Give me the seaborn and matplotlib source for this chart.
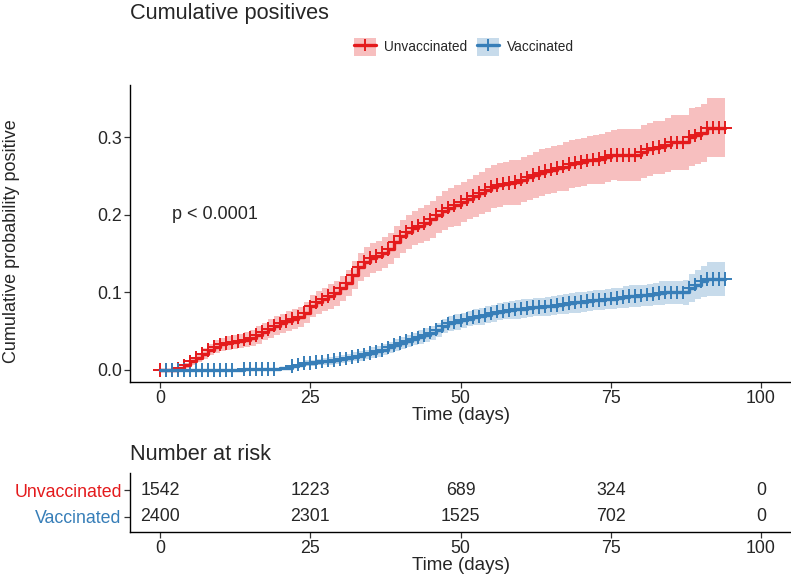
import numpy as np
import pandas as pd
import matplotlib
matplotlib.use("Agg")
import matplotlib.pyplot as plt
import seaborn as sns
from matplotlib.patches import Patch
from matplotlib.lines import Line2D

# daily grid of the Kaplan-Meier style cumulative curves
days = list(range(95))

unvacc_est = [
    0.000, 0.000, 0.000, 0.002, 0.006, 0.011, 0.016, 0.021, 0.026, 0.030,
    0.033, 0.035, 0.036, 0.037, 0.039, 0.041, 0.045, 0.049, 0.053, 0.057,
    0.060, 0.063, 0.066, 0.068, 0.074, 0.082, 0.087, 0.091, 0.095, 0.099,
    0.105, 0.112, 0.122, 0.132, 0.139, 0.144, 0.147, 0.151, 0.156, 0.165,
    0.172, 0.178, 0.183, 0.186, 0.189, 0.194, 0.200, 0.205, 0.209, 0.212,
    0.216, 0.220, 0.224, 0.228, 0.232, 0.236, 0.238, 0.240, 0.241, 0.242,
    0.245, 0.248, 0.251, 0.254, 0.256, 0.258, 0.260, 0.262, 0.265, 0.267,
    0.268, 0.270, 0.271, 0.272, 0.274, 0.277, 0.277, 0.277, 0.277, 0.277,
    0.281, 0.284, 0.286, 0.287, 0.290, 0.293, 0.293, 0.293, 0.300, 0.302,
    0.305, 0.312, 0.312, 0.312, 0.312,
]
unvacc_hw = [
    0.000, 0.000, 0.000, 0.002, 0.003, 0.005, 0.006, 0.007, 0.007, 0.008,
    0.008, 0.009, 0.009, 0.009, 0.010, 0.010, 0.011, 0.011, 0.012, 0.012,
    0.012, 0.013, 0.013, 0.013, 0.014, 0.014, 0.015, 0.015, 0.016, 0.016,
    0.016, 0.017, 0.018, 0.018, 0.019, 0.019, 0.019, 0.020, 0.020, 0.021,
    0.021, 0.022, 0.022, 0.023, 0.023, 0.024, 0.024, 0.025, 0.025, 0.026,
    0.026, 0.026, 0.027, 0.027, 0.028, 0.028, 0.028, 0.028, 0.029, 0.029,
    0.029, 0.029, 0.030, 0.030, 0.030, 0.030, 0.030, 0.031, 0.031, 0.031,
    0.031, 0.031, 0.032, 0.032, 0.032, 0.032, 0.033, 0.033, 0.033, 0.033,
    0.034, 0.034, 0.034, 0.034, 0.035, 0.035, 0.035, 0.036, 0.037, 0.037,
    0.037, 0.038, 0.038, 0.038, 0.038,
]
vacc_est = [
    0.000, 0.000, 0.000, 0.000, 0.000, 0.000, 0.000, 0.000, 0.000, 0.000,
    0.000, 0.000, 0.000, 0.000, 0.001, 0.001, 0.001, 0.001, 0.001, 0.001,
    0.002, 0.003, 0.005, 0.007, 0.009, 0.009, 0.010, 0.011, 0.012, 0.013,
    0.014, 0.015, 0.017, 0.018, 0.020, 0.022, 0.024, 0.026, 0.029, 0.032,
    0.035, 0.037, 0.040, 0.042, 0.045, 0.048, 0.052, 0.056, 0.060, 0.062,
    0.064, 0.066, 0.068, 0.069, 0.071, 0.073, 0.075, 0.076, 0.077, 0.078,
    0.079, 0.080, 0.081, 0.081, 0.082, 0.083, 0.084, 0.085, 0.086, 0.087,
    0.088, 0.089, 0.090, 0.090, 0.091, 0.092, 0.093, 0.094, 0.095, 0.095,
    0.096, 0.097, 0.098, 0.099, 0.100, 0.100, 0.100, 0.100, 0.106, 0.110,
    0.114, 0.117, 0.117, 0.117, 0.117,
]
vacc_hw = [
    0.000, 0.000, 0.000, 0.000, 0.000, 0.000, 0.000, 0.000, 0.000, 0.000,
    0.000, 0.000, 0.000, 0.000, 0.001, 0.001, 0.001, 0.001, 0.001, 0.001,
    0.002, 0.002, 0.003, 0.003, 0.004, 0.004, 0.004, 0.004, 0.005, 0.005,
    0.005, 0.005, 0.006, 0.006, 0.006, 0.007, 0.007, 0.007, 0.007, 0.008,
    0.008, 0.008, 0.008, 0.009, 0.009, 0.009, 0.009, 0.009, 0.010, 0.010,
    0.010, 0.010, 0.010, 0.011, 0.011, 0.011, 0.011, 0.011, 0.012, 0.012,
    0.012, 0.012, 0.012, 0.012, 0.012, 0.012, 0.012, 0.013, 0.013, 0.013,
    0.013, 0.013, 0.013, 0.013, 0.013, 0.013, 0.013, 0.014, 0.014, 0.014,
    0.014, 0.014, 0.014, 0.015, 0.015, 0.015, 0.015, 0.016, 0.018, 0.019,
    0.020, 0.022, 0.022, 0.022, 0.022,
]

# censoring marks (days)
unvacc_censor = list(range(0, 95))
vacc_censor = list(range(1, 13)) + list(range(14, 20)) + list(range(22, 95))

risk_times = [0, 25, 50, 75, 100]
unvacc_risk = [1542, 1223, 689, 324, 0]
vacc_risk = [2400, 2301, 1525, 702, 0]

groups = ["Unvaccinated", "Vaccinated"]
palette = {"Unvaccinated": "#E41A1C", "Vaccinated": "#377EB8"}

curves = pd.concat([
    pd.DataFrame({"day": days, "est": unvacc_est, "hw": unvacc_hw, "group": "Unvaccinated"}),
    pd.DataFrame({"day": days, "est": vacc_est, "hw": vacc_hw, "group": "Vaccinated"}),
], ignore_index=True)
curves["lo"] = (curves["est"] - curves["hw"]).clip(lower=0)
curves["hi"] = curves["est"] + curves["hw"]

censor = pd.concat([
    pd.DataFrame({"day": unvacc_censor, "group": "Unvaccinated"}),
    pd.DataFrame({"day": vacc_censor, "group": "Vaccinated"}),
], ignore_index=True).merge(curves[["day", "group", "est"]], on=["day", "group"])

risk = pd.concat([
    pd.DataFrame({"time": risk_times, "n": unvacc_risk, "group": "Unvaccinated", "row": 2}),
    pd.DataFrame({"time": risk_times, "n": vacc_risk, "group": "Vaccinated", "row": 1}),
], ignore_index=True)

sns.set_style("ticks")
plt.rcParams["font.family"] = ["Liberation Sans", "DejaVu Sans"]

fig = plt.figure(figsize=(7.91, 5.77), dpi=100)
ax = fig.add_axes([130 / 791, 1 - 382 / 577, 661 / 791, 297 / 577])
ax_r = fig.add_axes([130 / 791, 1 - 532 / 577, 661 / 791, 59 / 577])

# confidence bands
for g in groups:
    d = curves[curves["group"] == g]
    ax.fill_between(d["day"], d["lo"], d["hi"], step="post",
                    color=palette[g], alpha=0.28, linewidth=0)

sns.lineplot(data=curves, x="day", y="est", hue="group", palette=palette,
             estimator=None, drawstyle="steps-post", linewidth=2.4,
             legend=False, ax=ax)
sns.scatterplot(data=censor, x="day", y="est", hue="group", palette=palette,
                marker="+", s=95, linewidth=1.4, legend=False, ax=ax)

ax.set_xlim(-5, 105)
ax.set_ylim(-0.0155, 0.367)
ax.set_xticks([0, 25, 50, 75, 100])
ax.set_yticks([0.0, 0.1, 0.2, 0.3])
ax.set_yticklabels(["0.0", "0.1", "0.2", "0.3"])
ax.set_xlabel("Time (days)", fontsize=13.5, labelpad=0)
ax.set_ylabel("Cumulative probability positive", fontsize=13)
ax.yaxis.set_label_coords(-0.166, 0.475)
ax.text(2, 0.2, "p < 0.0001", fontsize=13, va="center", ha="left")
sns.despine(ax=ax)
for a in (ax, ax_r):
    a.tick_params(labelsize=12.8, length=4, width=0.9, color="#333333", pad=2)
    for s in ("left", "bottom"):
        a.spines[s].set_linewidth(1.0)
        a.spines[s].set_color("black")

# number-at-risk table
for _, r in risk.iterrows():
    ax_r.text(r["time"], r["row"], str(r["n"]), ha="center", va="center", fontsize=12.8)
ax_r.set_xlim(-5, 105)
ax_r.set_ylim(0.444, 2.63)
ax_r.set_xticks([0, 25, 50, 75, 100])
ax_r.set_yticks([2, 1])
ax_r.set_yticklabels(groups)
for lbl, g in zip(ax_r.get_yticklabels(), groups):
    lbl.set_color(palette[g])
ax_r.set_xlabel("Time (days)", fontsize=13.5, labelpad=0)
sns.despine(ax=ax_r)

fig.text(130 / 791, 1 - 13 / 577, "Cumulative positives", fontsize=15.7, va="center", ha="left")
fig.text(130 / 791, 1 - 455 / 577, "Number at risk", fontsize=15.7, va="center", ha="left")

handles = [
    (Patch(facecolor=palette[g], alpha=0.28, edgecolor="none"),
     Line2D([], [], color=palette[g], linewidth=2.4, marker="+", markersize=9, markeredgewidth=1.4))
    for g in groups
]
fig.legend(handles, groups, loc="center", bbox_to_anchor=(464 / 791, 1 - 47 / 577),
           ncol=2, frameon=False, fontsize=9.8, handlelength=1.6, handleheight=1.7,
           handletextpad=0.6, columnspacing=0.7)

fig.savefig("out.png", dpi=100)
